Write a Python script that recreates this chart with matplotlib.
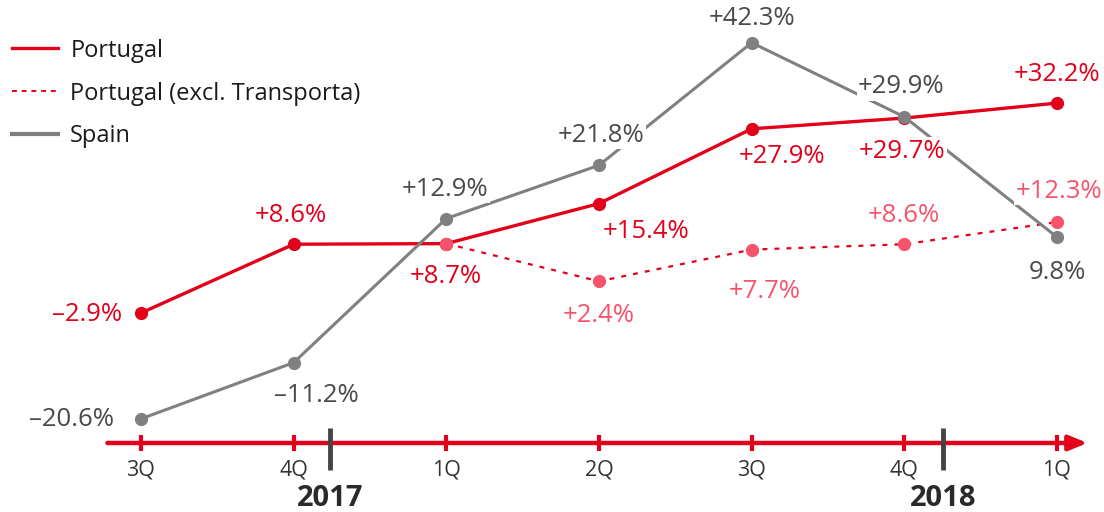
import matplotlib

matplotlib.use("Agg")

import matplotlib.pyplot as plt
from matplotlib.lines import Line2D

plt.rcParams["font.family"] = ["Open Sans", "DejaVu Sans"]

RED = "#e2001a"
PINK = "#f7546c"
GREY = "#808080"
TEXT_GREY = "#4a4a4a"

quarters = ["3Q", "4Q", "1Q", "2Q", "3Q", "4Q", "1Q"]
years = ["2017", "2018"]

portugal = [-2.9, 8.6, 8.7, 15.4, 27.9, 29.7, 32.2]
portugal_labels = ["-2.9%", "+8.6%", "+8.7%", "+15.4%", "+27.9%", "+29.7%", "+32.2%"]

excl_x = [2, 3, 4, 5, 6]
excl_transporta = [8.7, 2.4, 7.7, 8.6, 12.3]
excl_labels = [None, "+2.4%", "+7.7%", "+8.6%", "+12.3%"]

spain = [-20.6, -11.2, 12.9, 21.8, 42.3, 29.9, 9.8]
spain_labels = ["-20.6%", "-11.2%", "+12.9%", "+21.8%", "+42.3%", "+29.9%", "9.8%"]

# label offsets in pixels (dx, dy), relative to each point
portugal_off = [(-54, -2), (-3, 29), (-1, -33), (47, -28), (30, -28), (-2, -33), (0, 29)]
excl_off = [None, (0, -34), (13, -42), (0, 29), (2, 31)]
spain_off = [(-69, -1), (23, -33), (-1, 29), (2, 30), (0, 24), (-3, 30), (0, -35)]

x = list(range(len(quarters)))
AXIS_Y = -24.64

fig = plt.figure(figsize=(11.04, 5.12), dpi=100)
ax = fig.add_axes([0, 0, 1, 1])
ax.set_xlim(-0.9236, 6.308)
ax.set_ylim(-36.18, 49.44)
ax.axis("off")

ax.plot(x, portugal, color=RED, lw=2.4, marker="o", ms=8.5, zorder=3, solid_capstyle="round")
ax.plot(excl_x, excl_transporta, color=RED, lw=1.6, ls=(0, (2.2, 3.2)), zorder=2)
ax.plot(excl_x, excl_transporta, ls="none", marker="o", ms=8.5, color=PINK, zorder=4)
ax.plot(x, spain, color=GREY, lw=2.2, marker="o", ms=8.5, zorder=5)


def put_labels(xs, ys, labels, offsets, color):
    for xi, yi, lab, off in zip(xs, ys, labels, offsets):
        if lab is None:
            continue
        ax.annotate(lab.replace("-", "\u2013"), (xi, yi), xytext=off, textcoords="offset pixels",
                    ha="center", va="center", fontsize=18.5, color=color, zorder=6,
                    bbox=dict(boxstyle="square,pad=0.05", fc="white", ec="none"))


put_labels(x, portugal, portugal_labels, portugal_off, RED)
put_labels(excl_x, excl_transporta, excl_labels, excl_off, PINK)
put_labels(x, spain, spain_labels, spain_off, TEXT_GREY)

# time axis with arrow
ax.annotate("", xy=(6.20, AXIS_Y), xytext=(-0.22, AXIS_Y),
            arrowprops=dict(arrowstyle="-|>,head_length=1.1,head_width=0.45",
                            color=RED, lw=3.2, shrinkA=0, shrinkB=0), zorder=1)
for xi, q in zip(x, quarters):
    ax.plot([xi, xi], [AXIS_Y - 1.35, AXIS_Y + 1.35], color=RED, lw=3, solid_capstyle="butt", zorder=2)
    ax.text(xi, AXIS_Y - 4.6, q, ha="center", va="center", fontsize=15.5, color="#333333")

for xs, yr in zip([1.238, 5.253], years):
    ax.plot([xs, xs], [AXIS_Y + 2.5, AXIS_Y - 4.5], color="#444444", lw=3.5,
            solid_capstyle="butt", zorder=3)
    ax.text(xs, AXIS_Y - 9.2, yr, ha="center", va="center", fontsize=21,
            fontweight="bold", color="#2a2a2a")

handles = [
    Line2D([], [], color=RED, lw=2.4),
    Line2D([], [], color=RED, lw=1.4, ls=(0, (2.5, 2.5))),
    Line2D([], [], color=GREY, lw=3),
]
ax.legend(handles, ["Portugal", "Portugal (excl. Transporta)", "Spain"],
          loc="upper left", bbox_to_anchor=(-0.008, 0.966), frameon=False,
          fontsize=17, handlelength=1.95, handletextpad=0.5, labelspacing=0.8,
          labelcolor="#1a1a1a")

fig.savefig("out.png", dpi=100)
